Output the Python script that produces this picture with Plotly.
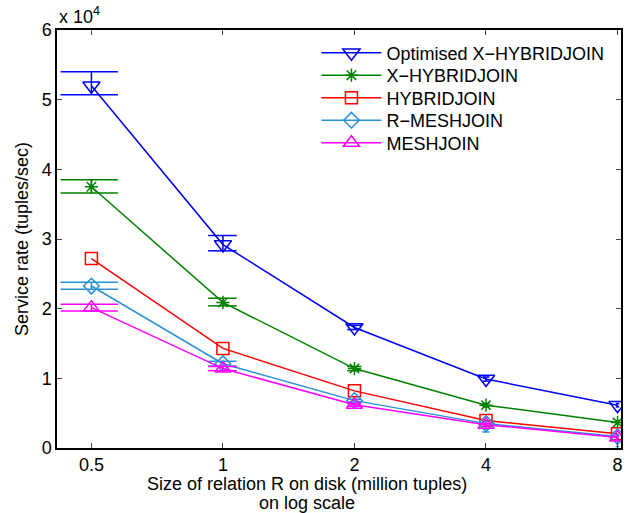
import math
import plotly.graph_objects as go

# ---------------- data ----------------
sizes = [0.5, 1, 2, 4, 8]  # million tuples

names = ["Optimised X\u2212HYBRIDJOIN", "X\u2212HYBRIDJOIN", "HYBRIDJOIN", "R\u2212MESHJOIN", "MESHJOIN"]

opt_mean = [52000, 29200, 17300, 9900, 6150]
opt_hi   = [54000, 30500, 17600, 10200, 6400]
opt_lo   = [50700, 28300, 17000, 9600, 5900]

xh_mean = [37500, 20900, 11400, 6150, 3650]
xh_hi   = [38500, 21500, 11700, 6400, 3900]
xh_lo   = [36600, 20400, 11100, 5900, 3400]

hy_mean = [27200, 14300, 8200, 3950, 2050]

rm_mean = [23250, 12100, 6800, 3500, 1650]
rm_hi   = [23800, 12450, 7000, 3800, 1900]
rm_lo   = [22800, 11750, 6600, 2300, 200]

me_mean = [20150, 11400, 6200, 3350, 1500]
me_hi   = [20650, 11700, 6400, 3550, 1700]
me_lo   = [19650, 11100, 6000, 3150, 1300]

ytick_vals = [0, 10000, 20000, 30000, 40000, 50000, 60000]
ytick_text = ["0", "1", "2", "3", "4", "5", "6"]
xtick_vals = [0.5, 1, 2, 4, 8]
xtick_text = ["0.5", "1", "2", "4", "8"]

x_title_1 = "Size of relation R on disk (million tuples)"
x_title_2 = "on log scale"
y_title = "Service rate (tuples/sec)"

# ---------------- style ----------------
colors = ["#0000ff", "#008000", "#ff0000", "#2a8fd4", "#ff00ff"]
symbols = ["triangle-down-open", "asterisk-open", "square-open", "diamond-open", "triangle-up-open"]
msizes = [15, 11, 12, 12, 14]
CAP = 0.075  # half-width of error-bar caps in data units (MATLAB style)
FONT = "Liberation Sans, Arial, sans-serif"
FS = 18
LEG_TOP_PX = 53.0   # centre of the first legend row, px from the top
LEG_STEP_PX = 22.5  # spacing between legend rows, px
PLOT_TOP, PLOT_H = 30, 418

series = [
    (opt_mean, opt_hi, opt_lo),
    (xh_mean, xh_hi, xh_lo),
    (hy_mean, None, None),
    (rm_mean, rm_hi, rm_lo),
    (me_mean, me_hi, me_lo),
]

fig = go.Figure()
legend_layouts = {}
for k, (mean, hi, lo) in enumerate(series):
    leg_id = "legend" if k == 0 else f"legend{k + 1}"
    if hi is not None:
        ex, ey = [], []
        for xi, h, l in zip(sizes, hi, lo):
            ex += [xi, xi, None, xi - CAP, xi + CAP, None, xi - CAP, xi + CAP, None]
            ey += [l, h, None, h, h, None, l, l, None]
        fig.add_trace(go.Scatter(
            x=ex, y=ey, mode="lines", line=dict(color=colors[k], width=1.5),
            showlegend=False, legendgroup=names[k], hoverinfo="skip"))
    fig.add_trace(go.Scatter(
        x=sizes, y=mean, mode="lines+markers", name=names[k], legendgroup=names[k],
        legend=leg_id,
        line=dict(color=colors[k], width=1.5),
        marker=dict(symbol=symbols[k], size=msizes[k], color=colors[k],
                    line=dict(color=colors[k], width=1.5))))
    yc = LEG_TOP_PX + k * LEG_STEP_PX
    legend_layouts[leg_id] = dict(
        x=0.46, y=1 - (yc - PLOT_TOP) / PLOT_H, xanchor="left", yanchor="middle",
        bgcolor="rgba(255,255,255,0)", borderwidth=0, itemwidth=60,
        font=dict(size=FS, family=FONT))

fig.update_layout(
    width=631, height=513,
    margin=dict(l=57, r=10, t=30, b=65, autoexpand=False),
    paper_bgcolor="white", plot_bgcolor="white",
    font=dict(family=FONT, size=FS, color="black"),
    showlegend=True,
    xaxis=dict(type="log", range=[math.log10(0.4171), math.log10(8.148)],
               tickvals=xtick_vals, ticktext=xtick_text, automargin=False,
               ticks="inside", ticklen=5, tickcolor="#444", tickwidth=1,
               showline=True, linecolor="black", linewidth=1.5, mirror="ticks",
               showgrid=False, zeroline=False,
               tickfont=dict(size=FS)),
    yaxis=dict(range=[0, 60000], tickvals=ytick_vals, ticktext=ytick_text, automargin=False,
               ticks="inside", ticklen=5, tickcolor="#444", tickwidth=1,
               showline=True, linecolor="black", linewidth=1.5, mirror="ticks",
               showgrid=False, zeroline=False,
               tickfont=dict(size=FS),
               title=dict(text=y_title, font=dict(size=FS), standoff=8)),
    annotations=[
        dict(text="x 10<sup>4</sup>", xref="paper", yref="paper", x=0, y=1,
             xanchor="left", yanchor="bottom", yshift=1, showarrow=False,
             font=dict(size=FS, family=FONT)),
        dict(text=x_title_1, xref="paper", yref="paper", x=0.443, y=0,
             xanchor="center", yanchor="middle", yshift=-36, showarrow=False,
             font=dict(size=FS, family=FONT)),
        dict(text=x_title_2, xref="paper", yref="paper", x=0.443, y=0,
             xanchor="center", yanchor="middle", yshift=-55, showarrow=False,
             font=dict(size=FS, family=FONT)),
    ],
)
fig.update_layout(**legend_layouts)

fig.write_html("out.html")
